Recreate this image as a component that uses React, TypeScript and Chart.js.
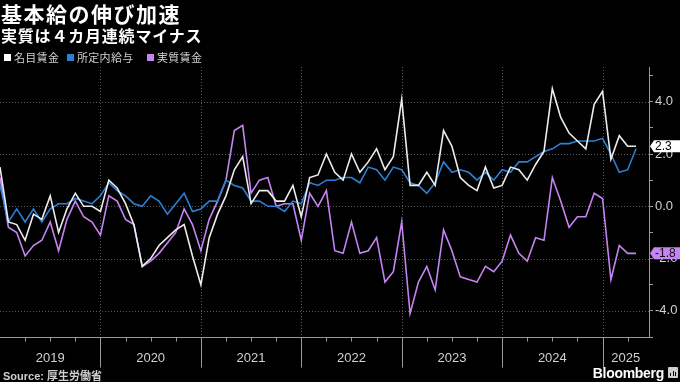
import React, { useEffect, useRef } from 'react';
import { Chart, registerables } from 'chart.js';

Chart.register(...registerables);

// Monthly y/y % change, Dec 2018 .. Apr 2025 (index 0 = Dec 2018)
const nominal = [
  1.5,
  -0.6, -0.7, -1.3, -0.3, -0.5, 0.4, -1.0, -0.1, 0.5, 0.0, 0.0, -0.2,
  1.0, 0.7, 0.1, -0.7, -2.3, -2.0, -1.5, -1.2, -0.9, -0.7, -1.9, -3.0,
  -1.2, -0.3, 0.4, 1.4, 1.9, 0.1, 0.6, 0.6, 0.2, 0.2, 0.8, -0.4,
  1.1, 1.2, 2.0, 1.3, 1.0, 2.0, 1.3, 1.7, 2.2, 1.4, 1.9, 4.1,
  0.8, 0.8, 1.3, 0.8, 2.9, 2.3, 1.1, 0.8, 0.6, 1.5, 0.7, 0.8,
  1.5, 1.4, 1.0, 1.6, 2.1, 4.5, 3.4, 2.8, 2.5, 2.2, 3.9, 4.4,
  1.8, 2.7, 2.3, 2.3,
];
const scheduled = [
  0.8,
  -0.6, -0.1, -0.6, -0.1, -0.6, -0.1, 0.1, 0.1, 0.3, 0.2, 0.1, 0.4,
  0.9, 0.6, 0.4, 0.1, 0.0, 0.4, 0.2, -0.3, 0.1, 0.5, -0.2, -0.1,
  0.2, 0.2, 1.0, 0.8, 0.7, 0.2, 0.2, 0.0, 0.0, -0.2, 0.2, 0.1,
  0.9, 0.8, 1.0, 1.0, 1.1, 1.1, 0.9, 1.5, 1.4, 1.0, 1.5, 1.4,
  0.9, 0.8, 0.5, 0.9, 1.7, 1.3, 1.4, 1.3, 1.0, 1.3, 1.0, 1.4,
  1.3, 1.7, 1.7, 1.9, 2.1, 2.2, 2.4, 2.4, 2.5, 2.5, 2.5, 2.6,
  2.0, 1.3, 1.4, 2.2,
];
const real = [
  1.1,
  -0.8, -1.0, -1.9, -1.5, -1.3, -0.6, -1.7, -0.5, 0.2, -0.4, -0.6, -1.1,
  0.4, 0.2, -0.5, -0.7, -2.3, -2.1, -1.8, -1.4, -1.0, -0.1, -0.7, -1.7,
  -0.5, 0.2, 1.0, 2.9, 3.1, 0.5, 1.0, 1.1, 0.0, 0.1, 0.1, -1.3,
  0.5, 0.0, 0.6, -1.7, -1.8, -0.6, -1.8, -1.7, -1.2, -2.9, -2.5, -0.6,
  -4.1, -2.9, -2.3, -3.2, -0.9, -1.7, -2.7, -2.8, -2.9, -2.3, -2.5, -2.1,
  -1.1, -1.8, -2.1, -1.2, -1.3, 1.1, 0.2, -0.8, -0.4, -0.4, 0.5, 0.3,
  -2.8, -1.5, -1.8, -1.8,
];

const seriesNames = ['名目賃金', '所定内給与', '実質賃金'];
const seriesColors = ['#ececec', '#2a80d6', '#c584f4'];
const yearLabels = ['2019', '2020', '2021', '2022', '2023', '2024', '2025'];
const yTickValues = [-5, -4, -3, -2, -1, 0, 1, 2, 3, 4, 5];
const yGridValues = [-4, -2, 0, 2, 4];

const NUM_FONT = "'Liberation Sans Narrow', 'Liberation Sans', Arial, sans-serif";
const CJK_FONT = "'Noto Sans CJK JP', 'Noto Sans', sans-serif";
const AXIS_COLOR = '#9a9a9a';
const TEXT_COLOR = '#d0d0d0';

const toPoints = (arr: number[]) => arr.map((v, i) => ({ x: i, y: v }));

const overlayPlugin = {
  id: 'overlay',
  beforeDatasetsDraw(chart: any) {
    const { ctx, chartArea: a, scales } = chart;
    const x = scales.x;
    const y = scales.y;
    ctx.save();
    ctx.strokeStyle = '#5a5a5a';
    ctx.lineWidth = 1;
    ctx.setLineDash([1, 2]);
    for (const v of yGridValues) {
      const py = Math.round(y.getPixelForValue(v)) + 0.5;
      ctx.beginPath();
      ctx.moveTo(a.left, py);
      ctx.lineTo(a.right, py);
      ctx.stroke();
    }
    for (let i = 1; i < yearLabels.length; i++) {
      const px = Math.round(x.getPixelForValue(i * 12)) + 0.5;
      ctx.beginPath();
      ctx.moveTo(px, a.top);
      ctx.lineTo(px, a.bottom);
      ctx.stroke();
    }
    ctx.restore();
  },
  afterDraw(chart: any) {
    const { ctx, chartArea: a, scales } = chart;
    const x = scales.x;
    const y = scales.y;
    ctx.save();
    ctx.strokeStyle = AXIS_COLOR;
    ctx.lineWidth = 1;
    ctx.setLineDash([]);
    const by = Math.round(a.bottom) + 0.5;
    ctx.beginPath();
    ctx.moveTo(a.left, by);
    ctx.lineTo(a.right, by);
    ctx.stroke();
    ctx.font = `13px ${NUM_FONT}`;
    ctx.fillStyle = TEXT_COLOR;
    ctx.textAlign = 'center';
    ctx.textBaseline = 'middle';
    for (let i = 0; i < yearLabels.length; i++) {
      const start = i * 12;
      const end = Math.min(start + 12, x.max);
      if (i > 0) {
        const px = Math.round(x.getPixelForValue(start)) + 0.5;
        ctx.beginPath();
        ctx.moveTo(px, by);
        ctx.lineTo(px, by + 30);
        ctx.stroke();
      }
      for (const q of [3, 6, 9]) {
        if (start + q < x.max) {
          const qx = Math.round(x.getPixelForValue(start + q)) + 0.5;
          ctx.beginPath();
          ctx.moveTo(qx, by);
          ctx.lineTo(qx, by + 4);
          ctx.stroke();
        }
      }
      const cx = (x.getPixelForValue(start) + x.getPixelForValue(end)) / 2;
      ctx.fillText(yearLabels[i], cx, by + 21);
    }

    // last-value tags
    const tags = [
      { value: nominal[nominal.length - 1], bg: '#ffffff', fg: '#000000' },
      { value: real[real.length - 1], bg: seriesColors[2], fg: '#111111' },
    ];
    ctx.font = `12px ${NUM_FONT}`;
    ctx.textAlign = 'left';
    for (const t of tags) {
      const py = y.getPixelForValue(t.value);
      const left = a.right + 1;
      const h = 12;
      ctx.fillStyle = t.bg;
      ctx.beginPath();
      ctx.moveTo(left, py);
      ctx.lineTo(left + 4, py - h / 2);
      ctx.lineTo(chart.width, py - h / 2);
      ctx.lineTo(chart.width, py + h / 2);
      ctx.lineTo(left + 4, py + h / 2);
      ctx.closePath();
      ctx.fill();
      ctx.fillStyle = t.fg;
      ctx.fillText(t.value.toFixed(1), left + 5, py + 0.5);
    }
    ctx.restore();
  },
};

export default function App() {
  const canvasRef = useRef<HTMLCanvasElement | null>(null);

  useEffect(() => {
    document.body.style.margin = '0';
    document.body.style.background = '#000';
    const canvas = canvasRef.current;
    if (!canvas) return;
    const chart = new Chart(canvas, {
      type: 'line',
      data: {
        datasets: [
          { label: seriesNames[0], data: toPoints(nominal), borderColor: seriesColors[0] },
          { label: seriesNames[1], data: toPoints(scheduled), borderColor: seriesColors[1] },
          { label: seriesNames[2], data: toPoints(real), borderColor: seriesColors[2] },
        ].map((d) => ({ ...d, borderWidth: 1.6, pointRadius: 0, tension: 0, fill: false })),
      },
      options: {
        responsive: false,
        animation: false,
        devicePixelRatio: 1,
        layout: { autoPadding: false, padding: { top: 67, left: 0, right: 0, bottom: 0 } },
        plugins: { legend: { display: false }, tooltip: { enabled: false } },
        scales: {
          x: {
            type: 'linear',
            min: 0,
            max: 77.55,
            afterFit: (s: any) => { s.height = 45; },
            ticks: { display: false },
            grid: { display: false, drawTicks: false },
            border: { display: false },
          },
          y: {
            position: 'right',
            min: -5,
            max: 5.33,
            afterBuildTicks: (s: any) => { s.ticks = yTickValues.map((v) => ({ value: v })); },
            afterFit: (s: any) => { s.width = 31; },
            grid: { drawOnChartArea: false, drawTicks: true, tickLength: 4, tickColor: AXIS_COLOR, tickWidth: 1 },
            border: { display: true, color: AXIS_COLOR, width: 1 },
            ticks: {
              color: TEXT_COLOR,
              padding: 2,
              autoSkip: false,
              maxRotation: 0,
              font: { family: NUM_FONT, size: 13 },
              callback: (v: any) => (Number(v) % 2 === 0 ? Number(v).toFixed(1) : ''),
            },
          },
        },
      },
      plugins: [overlayPlugin],
    } as any);
    return () => chart.destroy();
  }, []);

  const legendItem = (i: number, left: number) => (
    <div key={i} style={{ position: 'absolute', left, top: 50, height: 14, display: 'flex', alignItems: 'center', whiteSpace: 'nowrap' }}>
      <span style={{ display: 'inline-block', width: 7, height: 7, background: i === 0 ? '#ffffff' : seriesColors[i], marginRight: 3 }} />
      <span style={{ fontSize: 11, color: TEXT_COLOR, fontFamily: CJK_FONT, letterSpacing: 0.3 }}>{seriesNames[i]}</span>
    </div>
  );

  return (
    <div style={{ position: 'fixed', left: 0, top: 0, width: 680, height: 382, background: '#000', overflow: 'hidden', fontFamily: CJK_FONT }}>
      <canvas ref={canvasRef} width={680} height={382} style={{ position: 'absolute', left: 0, top: 0, width: 680, height: 382 }} />
      <div style={{ position: 'absolute', left: 1, top: 1, fontSize: 21, lineHeight: '24px', fontWeight: 700, color: '#fff', letterSpacing: 1.5, whiteSpace: 'nowrap' }}>基本給の伸び加速</div>
      <div style={{ position: 'absolute', left: 1, top: 25, fontSize: 16, lineHeight: '20px', fontWeight: 700, color: '#fff', letterSpacing: 0.8, whiteSpace: 'nowrap' }}>実質は４カ月連続マイナス</div>
      {legendItem(0, 4)}
      {legendItem(1, 67)}
      {legendItem(2, 147)}
      <div style={{ position: 'absolute', left: 3, top: 368, fontSize: 11, lineHeight: '14px', fontWeight: 700, color: TEXT_COLOR, whiteSpace: 'nowrap' }}>
        <span style={{ fontFamily: NUM_FONT }}>Source: </span>厚生労働省
      </div>
      <div style={{ position: 'absolute', right: 16, top: 364, fontSize: 14, lineHeight: '18px', fontWeight: 700, color: '#fff', fontFamily: "'Liberation Sans', Arial, sans-serif", letterSpacing: -0.3, whiteSpace: 'nowrap' }}>Bloomberg</div>
      <div style={{ position: 'absolute', left: 668, top: 367, width: 10, height: 11, background: '#cfcfcf', borderRadius: 1 }}>
        <div style={{ position: 'absolute', left: 2, bottom: 2, width: 1, height: 3, background: '#000' }} />
        <div style={{ position: 'absolute', left: 4.5, bottom: 2, width: 1, height: 5, background: '#000' }} />
        <div style={{ position: 'absolute', left: 7, bottom: 2, width: 1, height: 4, background: '#000' }} />
      </div>
    </div>
  );
}
